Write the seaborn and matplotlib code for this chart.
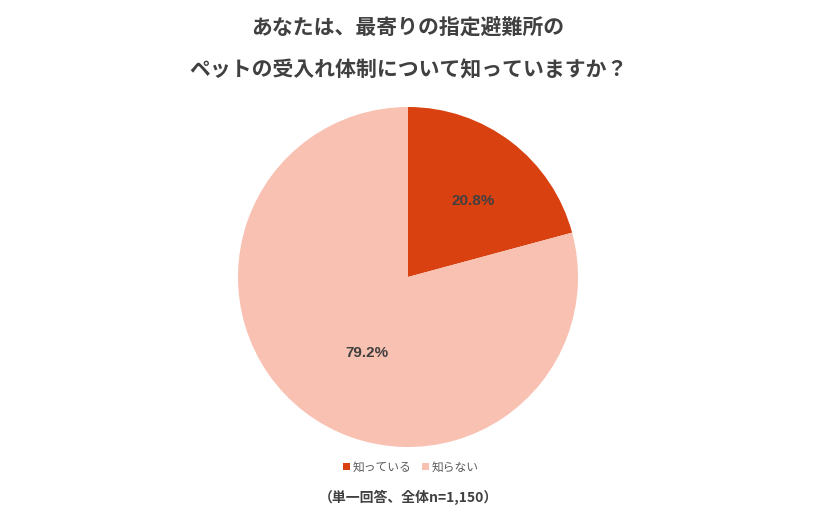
import matplotlib
matplotlib.use("Agg")
import numpy as np
import matplotlib.pyplot as plt
import seaborn as sns
from matplotlib.patches import Patch

categories = ["知っている", "知らない"]
values = [20.8, 79.2]
colors = ["#D94111", "#F8C1B1"]
title_lines = ["あなたは、最寄りの指定避難所の", "ペットの受入れ体制について知っていますか？"]
note = "（単一回答、全体n=1,150）"
# label placement (style): radial distance and angular offset in degrees
label_dist = [0.59, 0.51]
label_shift = [-3, 9]

sns.set_theme(style="white")
plt.rcParams['font.family'] = ['Noto Sans CJK JP', 'DejaVu Sans']

W, H = 817, 516
fig = plt.figure(figsize=(W / 100, H / 100), dpi=100)
cx, cy, r = 408, 277, 170
ax = fig.add_axes([(cx - r) / W, (H - cy - r) / H, 2 * r / W, 2 * r / H])

wedges, texts, autotexts = ax.pie(
    values, colors=colors, startangle=90, counterclock=False,
    autopct="%.1f%%", pctdistance=0.55, radius=1.0,
    wedgeprops=dict(linewidth=0),
    textprops=dict(color="#404040", fontsize=11, fontweight="bold",
                   family=["Liberation Sans", "DejaVu Sans"]))
for w, t, d, s in zip(wedges, autotexts, label_dist, label_shift):
    ang = np.deg2rad((w.theta1 + w.theta2) / 2 + s)
    t.set_position((d * np.cos(ang), d * np.sin(ang)))
ax.set_xlim(-1, 1)
ax.set_ylim(-1, 1)
ax.set_aspect("equal")
ax.axis("off")

fig.text(408 / W, 1 - 27 / H, title_lines[0], ha="center", va="center",
         fontsize=15, fontweight="bold", color="#404040")
fig.text(409 / W, 1 - 70 / H, title_lines[1], ha="center", va="center",
         fontsize=15, fontweight="bold", color="#404040")

handles = [Patch(facecolor=c, edgecolor="none") for c in colors]
fig.legend(handles, categories, loc="center", bbox_to_anchor=(411 / W, 1 - 467 / H),
           ncol=2, frameon=False, fontsize=8.5, handlelength=0.6, handleheight=0.6,
           handletextpad=0.2, columnspacing=0.9, labelcolor="#595959")

fig.text(408 / W, 1 - 497 / H, note, ha="center", va="center",
         fontsize=10, fontweight="bold", color="#404040")

fig.savefig("out.png", dpi=100, facecolor="white")
